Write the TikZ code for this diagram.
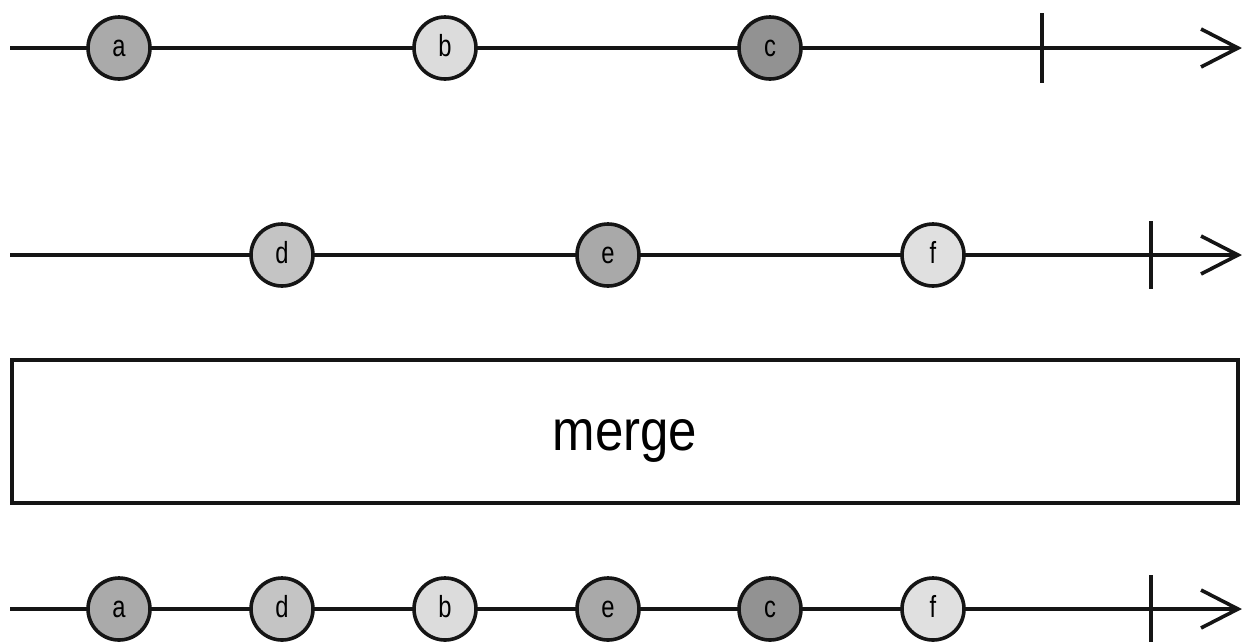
\documentclass[tikz,border=0pt]{standalone}
\usepackage{fontspec}
\setmainfont{Liberation Sans}
\definecolor{ink}{HTML}{151515}
\definecolor{ga}{HTML}{AAAAAA}
\definecolor{gb}{HTML}{DCDCDC}
\definecolor{gc}{HTML}{929292}
\definecolor{gd}{HTML}{C4C4C4}
\definecolor{ge}{HTML}{A9A9A9}
\definecolor{gf}{HTML}{E0E0E0}
\tikzset{
  timeline/.style={draw=ink, line width=3.6pt},
  marble/.style={circle, draw=ink, line width=3.6pt, minimum size=62pt, inner sep=0pt,
    font=\fontsize{25}{25}\selectfont, text height=17.5pt, text depth=0pt},
  endtick/.style={draw=ink, line width=3.6pt},
  opbox/.style={draw=ink, line width=3.6pt, fill=white, minimum width=1226pt,
    minimum height=143pt, inner sep=0pt},
  oplabel/.style={anchor=base, inner sep=0pt, font=\fontsize{51}{51}\selectfont},
}
\newcommand{\arrowtip}[1]{%
  \draw[timeline, line join=miter] ([shift={(-37pt,19pt)}]#1) -- (#1) -- ([shift={(-37pt,-19pt)}]#1);}
\newcommand{\glyph}[1]{\scalebox{0.95}[1.22]{#1}}
\begin{document}
\begin{tikzpicture}[x=1pt,y=-1pt]
  \useasboundingbox (0,0) rectangle (1244,641);

  % first source stream
  \coordinate (s1) at (10,48);
  \coordinate (t1) at (1238,48);
  \draw[timeline] (s1) -- (t1);
  \arrowtip{t1}
  \coordinate (k1) at (1042,48);
  \draw[endtick] ([yshift=35pt]k1) -- ([yshift=-35pt]k1);
  \node[marble, fill=ga] (a1) at (119,48) {\glyph{a}};
  \node[marble, fill=gb] (b1) at (445,48) {\glyph{b}};
  \node[marble, fill=gc] (c1) at (770,48) {\glyph{c}};

  % second source stream
  \coordinate (s2) at (10,255);
  \coordinate (t2) at (1238,255);
  \draw[timeline] (s2) -- (t2);
  \arrowtip{t2}
  \coordinate (k2) at (1151,255);
  \draw[endtick] ([yshift=34pt]k2) -- ([yshift=-34pt]k2);
  \node[marble, fill=gd] (d2) at (282,255) {\glyph{d}};
  \node[marble, fill=ge] (e2) at (608,255) {\glyph{e}};
  \node[marble, fill=gf] (f2) at (933,255) {\glyph{f}};

  % operator
  \node[opbox] (op) at (625,431.5) {};
  \node[oplabel] (opname) at (625,450) {\scalebox{1}[1.13]{merge}};

  % merged stream
  \coordinate (s3) at (10,609);
  \coordinate (t3) at (1238,609);
  \draw[timeline] (s3) -- (t3);
  \arrowtip{t3}
  \coordinate (k3) at (1151,609);
  \draw[endtick] ([yshift=34pt]k3) -- ([yshift=-34pt]k3);
  \node[marble, fill=ga] (a3) at (119,609) {\glyph{a}};
  \node[marble, fill=gd] (d3) at (282,609) {\glyph{d}};
  \node[marble, fill=gb] (b3) at (445,609) {\glyph{b}};
  \node[marble, fill=ge] (e3) at (608,609) {\glyph{e}};
  \node[marble, fill=gc] (c3) at (770,609) {\glyph{c}};
  \node[marble, fill=gf] (f3) at (933,609) {\glyph{f}};
\end{tikzpicture}
\end{document}
